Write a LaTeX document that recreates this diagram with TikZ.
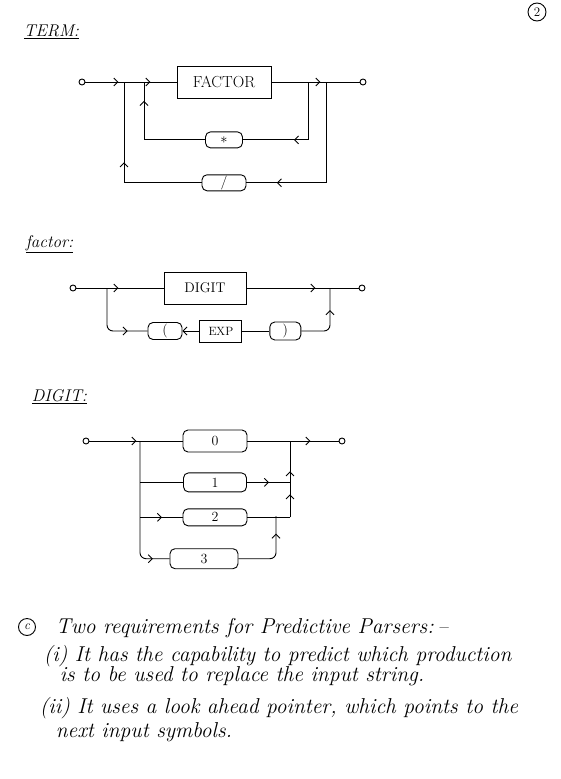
\documentclass[tikz,border=0pt]{standalone}
\usepackage{fontspec}
\usepackage{tikz}
\usetikzlibrary{shapes,arrows,arrows.meta,positioning,calc,decorations.markings}

\begin{document}
\begin{tikzpicture}[
    x=1pt, y=-1pt,
    line width=0.9pt,
    >={Straight Barb[length=4pt,width=8pt]},
    lbl/.style={anchor=west, font=\fontsize{17}{19}\selectfont\itshape},
    nterm/.style={draw, inner sep=0pt, font=\fontsize{16}{18}\selectfont},
    term/.style={draw, rounded corners=5pt, inner sep=0pt, minimum height=16pt, font=\fontsize{14}{16}\selectfont},
    dot/.style={circle, draw, inner sep=0pt, minimum size=6pt},
    txt/.style={anchor=base west, font=\fontsize{21.5}{24}\selectfont\itshape},
    midarr/.style={postaction={decorate, decoration={markings, mark=at position #1 with {\arrow{>}}}}},
]
\useasboundingbox (0,0) rectangle (560,779);

% page number
\node[circle, draw, inner sep=0pt, minimum size=18pt, font=\fontsize{13}{13}\selectfont] (pnum) at (537,12) {2};

% TERM
\node[lbl] (termlbl) at (20,32) {\underline{TERM:}};
\node[dot] (tin) at (82,82) {};
\node[nterm, minimum width=94pt, minimum height=32pt] (factor) at (224,82) {FACTOR};
\node[dot] (tout) at (363,82) {};
\node[term, minimum width=37pt, below=33pt of factor] (star) {$*$};
\node[term, minimum width=44pt, below=26pt of star] (slash) {/};

\coordinate (ol) at (124,82);
\coordinate (il) at (144,82);
\coordinate (ir) at (308,82);
\coordinate (or) at (326,82);

\draw[midarr=33pt, midarr=65pt] (tin) -- (factor);
\draw[midarr=49pt] (factor) -- (tout);
\draw[midarr=72pt] (ir) |- (star);
\draw[midarr=100pt] (star) -| (il);
\draw[midarr=150pt] (or) |- (slash);
\draw[midarr=98pt] (slash) -| (ol);

% factor
\node[lbl] (factlbl) at (22,244) {\underline{factor:}};
\node[dot] (fin) at (73,288) {};
\node[nterm, minimum width=82pt, minimum height=32pt, font=\fontsize{14}{16}\selectfont] (digit) at (205,288) {DIGIT};
\node[dot] (fout) at (362,288) {};
\node[term, minimum width=34pt, minimum height=17pt] (lpar) at (165,331) {(};
\node[nterm, minimum width=42pt, minimum height=22pt, font=\fontsize{12}{14}\selectfont, right=17pt of lpar] (exp) {EXP};
\node[term, minimum width=31pt, minimum height=18pt, right=27pt of exp] (rpar) {)};

\coordinate (fb) at (107,288);
\coordinate (fr) at (330,288);

\draw[midarr=42pt] (fin) -- (digit);
\draw[midarr=69pt] (digit) -- (fout);
\draw[midarr=61pt, rounded corners=6pt] (fb) |- (lpar);
\draw[->] (exp) -- (lpar);
\draw (exp) -- (rpar);
\draw[midarr=47pt, rounded corners=6pt] (rpar) -| (fr);

% DIGIT
\node[lbl] (diglbl) at (28,397) {\underline{DIGIT:}};
\node[dot] (din) at (86,441) {};
\node[term, minimum width=64pt, minimum height=22pt] (d0) at (215,441) {0};
\node[dot] (dout) at (342,441) {};
\node[term, minimum width=63pt, minimum height=19pt, below=20pt of d0] (d1) {1};
\node[term, minimum width=64pt, minimum height=17pt, below=16pt of d1] (d2) {2};
\node[term, minimum width=68pt, minimum height=20pt, below=22pt of d2, xshift=-11pt] (d3) {3};

\coordinate (dl) at (140,441);
\coordinate (j1) at (dl |- d1);
\coordinate (j2) at (dl |- d2);
\coordinate (dr) at (290,441);
\coordinate (k1) at (dr |- d1);
\coordinate (k2) at (dr |- d2);
\coordinate (k3) at (276,516);

\draw[midarr=47pt] (din) -- (d0);
\draw[midarr=63pt] (d0) -- (dout);
\draw[midarr=128pt, rounded corners=6pt] (dl) |- (d3);
\draw (j1) -- (d1);
\draw[midarr=22pt] (j2) -- (d2);
\draw[midarr=22pt] (d1) -- (k1);
\draw (d2) -- (k2);
\draw[midarr=23pt, midarr=46pt] (k2) -- (dr);
\draw[midarr=60pt, rounded corners=6pt] (d3) -| (k3);

% answer text
\node[circle, draw, inner sep=0pt, minimum size=17pt, font=\fontsize{13}{13}\selectfont\itshape] (cmark) at (27,627) {c};
\node[txt] (l1) at (52,633) {Two requirements for Predictive Parsers:\,--};
\node[txt] (l2) at (40,661) {(i) It has the capability to predict which production};
\node[txt] (l3) at (56,681) {is to be used to replace the input string.};
\node[txt] (l4) at (36,713) {(ii) It uses a look ahead pointer, which points to the};
\node[txt] (l5) at (52,737) {next input symbols.};
\end{tikzpicture}
\end{document}
